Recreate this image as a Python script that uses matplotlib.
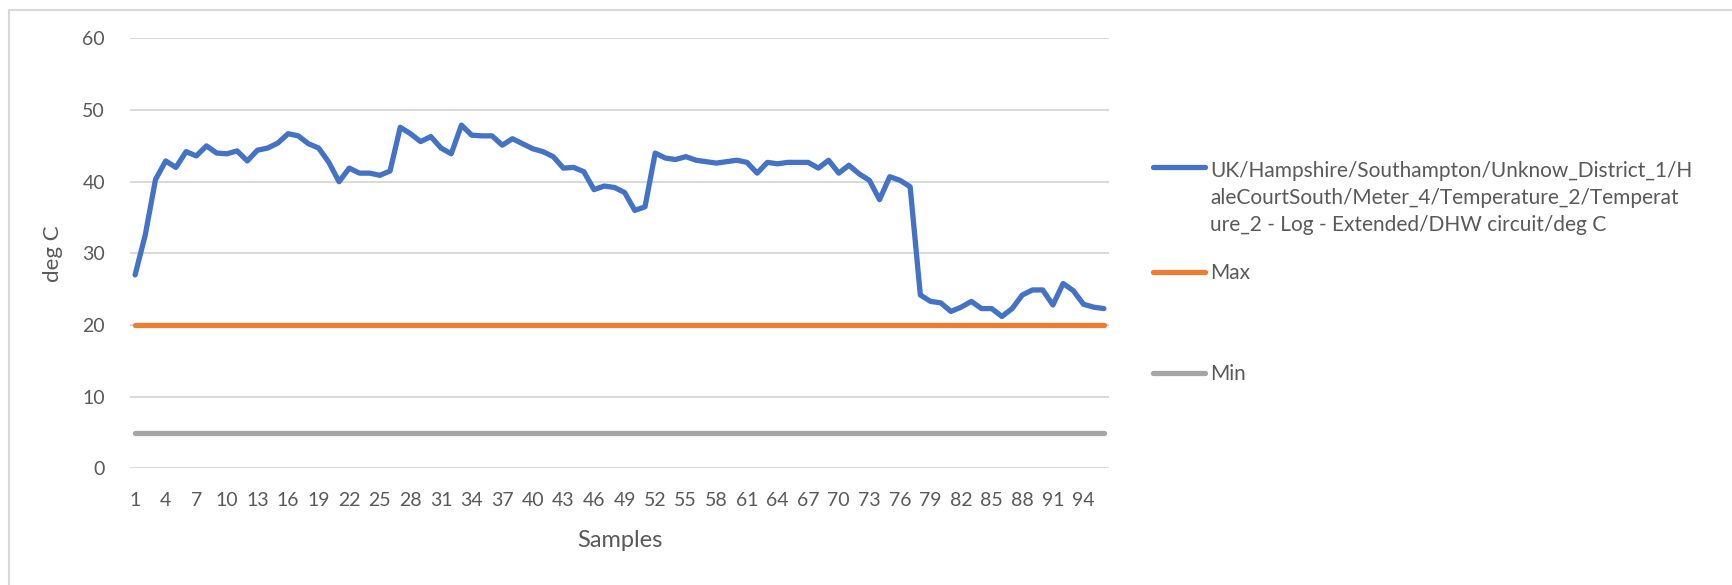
import numpy as np
import matplotlib
matplotlib.use('Agg')
import matplotlib.pyplot as plt
from matplotlib.lines import Line2D
from matplotlib.patches import Rectangle

# Temperature readings for the DHW circuit sensor, one value per sample
temperature = [
    27.0, 32.6, 40.3, 42.9, 42.0, 44.2, 43.6, 45.0, 44.0, 43.9,
    44.3, 42.9, 44.4, 44.7, 45.4, 46.7, 46.4, 45.3, 44.7, 42.7,
    40.0, 41.9, 41.2, 41.2, 40.9, 41.5, 47.6, 46.7, 45.6, 46.3,
    44.7, 43.9, 47.9, 46.5, 46.4, 46.4, 45.1, 46.0, 45.3, 44.6,
    44.2, 43.5, 41.9, 42.0, 41.4, 38.9, 39.4, 39.2, 38.5, 36.0,
    36.5, 44.0, 43.3, 43.1, 43.5, 43.0, 42.8, 42.6, 42.8, 43.0,
    42.7, 41.2, 42.7, 42.5, 42.7, 42.7, 42.7, 41.9, 43.0, 41.2,
    42.3, 41.1, 40.2, 37.5, 40.7, 40.2, 39.3, 24.2, 23.3, 23.1,
    21.9, 22.5, 23.3, 22.3, 22.3, 21.2, 22.3, 24.2, 24.9, 24.9,
    22.8, 25.8, 24.8, 22.9, 22.5, 22.3,
]
max_limit = 20
min_limit = 5

series_labels = [
    "UK/Hampshire/Southampton/Unknow_District_1/H\n"
    "aleCourtSouth/Meter_4/Temperature_2/Temperat\n"
    "ure_2 - Log - Extended/DHW circuit/deg C",
    "Max",
    "Min",
]
series_colors = ['#4472C4', '#ED7D31', '#A5A5A5']

samples = np.arange(1, len(temperature) + 1)
max_line = np.full(len(samples), max_limit)
min_line = np.full(len(samples), min_limit)

plt.rcParams['font.family'] = ['Lato', 'DejaVu Sans']
text_color = '#595959'

W, H = 1733, 585
fig = plt.figure(figsize=(W / 100, H / 100), dpi=100)
ax = fig.add_axes([130 / W, 1 - 468.4 / H, (1109 - 130) / W, (468.4 - 38.4) / H])

lw = 3.8
ax.plot(samples, temperature, color=series_colors[0], lw=lw,
        solid_capstyle='round', solid_joinstyle='round', zorder=4)
ax.plot(samples, max_line, color=series_colors[1], lw=lw,
        solid_capstyle='round', zorder=3)
ax.plot(samples, min_line, color=series_colors[2], lw=lw,
        solid_capstyle='round', zorder=3)

ax.set_xlim(0.5, len(samples) + 0.5)
ax.set_ylim(0, 60)
ax.set_yticks(np.arange(0, 61, 10))
ax.set_xticks(samples[::3])
ax.grid(axis='y', color='#D9D9D9', lw=1.4)
ax.set_axisbelow(True)
for side in ax.spines.values():
    side.set_visible(False)
ax.tick_params(length=0, colors=text_color, labelsize=14)
ax.tick_params(axis='y', pad=18)
ax.tick_params(axis='x', pad=17)
ax.set_xlabel("Samples", fontsize=17, color=text_color, labelpad=15)
ax.set_ylabel("deg C", fontsize=16, color=text_color, labelpad=14)

# Legend drawn beside the plot area, in pixel coordinates
legend_rows = [167, 272, 373]
row_step = 30
for label, color, y in zip(series_labels, series_colors, legend_rows):
    fig.add_artist(Line2D([1153 / W, 1205 / W], [1 - y / H, 1 - y / H],
                          color=color, lw=lw, solid_capstyle='round'))
    n_lines = label.count('\n') + 1
    y_mid = y + (n_lines - 1) * row_step / 2
    fig.text(1210 / W, 1 - (y_mid + 1) / H, label, fontsize=15, color=text_color,
             va='center', ha='left', linespacing=1.42)

# Light chart-area border
fig.add_artist(Rectangle((9 / W, -0.1), 1.2, 1 - 10 / H + 0.1,
                         transform=fig.transFigure, fill=False,
                         edgecolor='#D9D9D9', lw=1.5))

fig.savefig('out.png', dpi=100, facecolor='white')
